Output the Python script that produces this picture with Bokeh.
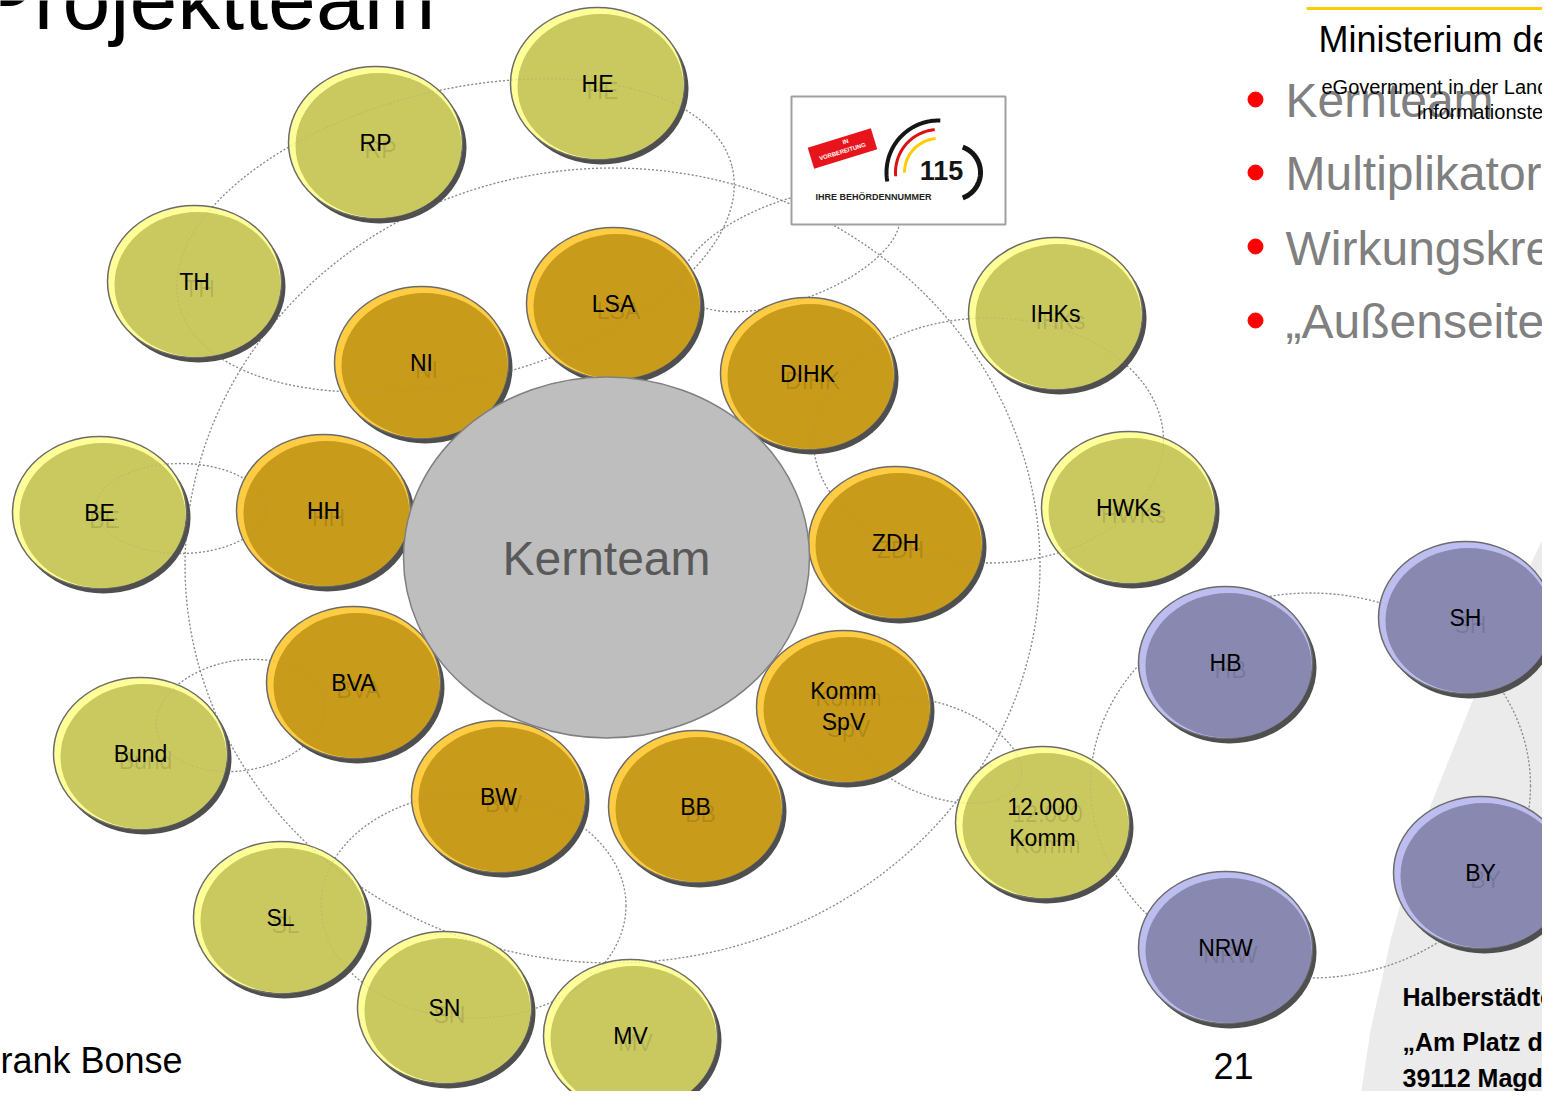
import numpy as np
from bokeh.plotting import figure
from bokeh.models import Range1d, ColumnDataSource
from bokeh.embed import file_html
from bokeh.resources import INLINE
from bokeh.core.properties import value

# ---------------- data ----------------
core_names = ["LSA", "NI", "DIHK", "HH", "ZDH", "BVA", "Komm\nSpV", "BW", "BB"]
core_x = [613, 421, 807, 323, 895, 353, 843, 498, 695]
core_y = [303, 362, 373, 510, 542, 682, 706, 796, 806]

outer_names = ["HE", "RP", "TH", "IHKs", "BE", "HWKs", "Bund", "12.000\nKomm", "SL", "SN", "MV"]
outer_x = [597, 375, 194, 1055, 99, 1128, 140, 1042, 280, 444, 630]
outer_y = [83, 142, 281, 313, 512, 507, 753, 822, 917, 1007, 1035]

ext_names = ["HB", "SH", "NRW", "BY"]
ext_x = [1225, 1465, 1225, 1480]
ext_y = [662, 617, 947, 872]

center_name = "Kernteam"
center_xy = (606, 557)

# dotted connection rings: cx, cy, width, height, tilt (deg)
ring_cx = [612, 455, 790, 988, 180, 240, 473, 937, 1310]
ring_cy = [565, 235, 250, 440, 508, 715, 905, 750, 785]
ring_w = [855, 570, 230, 350, 170, 170, 305, 176, 440]
ring_h = [795, 290, 100, 245, 90, 110, 225, 92, 385]
ring_tilt = [0, -14, -20, 0, 0, -10, 0, 20, 0]

bullets = ["Kernteam", "Multiplikatore", "Wirkungskrei", "\u201eAu\u00dfenseiter"]
bullet_y = [100, 173, 248, 321]

address = ["Halberst\u00e4dte", "\u201eAm Platz de", "39112 Magde"]
address_y = [996, 1041, 1077]

swoosh_x = [1558, 1507, 1467, 1420, 1390, 1370, 1358, 1560, 1560]
swoosh_y = [505, 613, 713, 830, 940, 1030, 1110, 1110, 505]

NODE_W, NODE_H = 174, 152
FONT = value("Liberation Sans")

# ---------------- figure ----------------
p = figure(width=1542, height=1091, output_backend="svg", toolbar_location=None,
           x_range=Range1d(0, 1542), y_range=Range1d(1091, 0),
           x_axis_location=None, y_axis_location=None, min_border=0)
p.grid.visible = False
p.outline_line_color = None
p.background_fill_color = "white"
p.border_fill_color = "white"

# background swoosh
p.patch(swoosh_x, swoosh_y, fill_color="#EBEBEB", line_color=None)


def ring_points(cx, cy, w, h, tilt):
    t = np.linspace(0, 2 * np.pi, 240)
    a, b = w / 2, h / 2
    th = np.radians(tilt)
    u, v = a * np.cos(t), b * np.sin(t)
    return list(cx + u * np.cos(th) - v * np.sin(th)), list(cy + u * np.sin(th) + v * np.cos(th))


rxs, rys = [], []
for i in range(len(ring_cx)):
    xx, yy = ring_points(ring_cx[i], ring_cy[i], ring_w[i], ring_h[i], ring_tilt[i])
    rxs.append(xx)
    rys.append(yy)
p.multi_line(rxs, rys, line_color="#8a8a8a", line_width=1.3, line_dash="2 2")


def label(x, y, txt, size, color="black", style="normal", align="left", **kw):
    p.text(x=x, y=y, text=txt, text_font=FONT, text_font_size=value(size), text_color=color,
           text_font_style=style, text_align=align, text_baseline="middle", **kw)


# title and footer texts
label([-24], [-2], ["Projektteam"], "86px")
label([0], [1060], ["rank Bonse"], "36px")
label([1213], [1065], ["21"], "36px")

# header
p.segment(x0=[1306], y0=[8], x1=[1560], y1=[8], line_color="#FFCC00", line_width=3)
p.scatter(x=[1255] * 4, y=[99, 172, 246, 320], size=15, color="#FF0000")
label([1285] * 4, bullet_y, bullets, "48px", color="#808080")
label([1318], [39], ["Ministerium de"], "36px")
label([1321, 1416], [86, 111], ["eGovernment in der Land", "Informationstec"], "20px")

# address
label([1402] * 3, address_y, address, "25px", style="bold")


def draw_nodes(xs, ys, body, hi):
    src = ColumnDataSource(dict(x=xs, y=ys,
                                sx=[x + 4 for x in xs], sy=[y + 5 for y in ys],
                                bx=[x + 3 for x in xs], by=[y + 3 for y in ys]))
    p.ellipse("sx", "sy", width=NODE_W, height=NODE_H, fill_color="#4f4f4f", line_color=None, source=src)
    p.ellipse("x", "y", width=NODE_W, height=NODE_H, fill_color=hi, line_color="#6b6b6b",
              line_width=1.5, source=src)
    p.ellipse("bx", "by", width=NODE_W - 8, height=NODE_H - 7, fill_color=body, line_color=None, source=src)


draw_nodes(outer_x, outer_y, "#CAC95F", "#FFFF99")
draw_nodes(ext_x, ext_y, "#8888B0", "#BDBDF0")
draw_nodes(core_x, core_y, "#C89B1A", "#FFCC44")

# central circle
p.ellipse([center_xy[0]], [center_xy[1]], width=406, height=361, fill_color="#BEBEBE",
          line_color="#808080", line_width=1.5)
label([center_xy[0]], [center_xy[1] + 1], [center_name], "48px", color="#595959", align="center")

# faint ring traces over the nodes
p.multi_line(rxs, rys, line_color="#8a8a8a", line_width=1.0, line_dash="2 2", line_alpha=0.25)

# labels
all_names = core_names + outer_names + ext_names
all_x = core_x + outer_x + ext_x
all_y = core_y + outer_y + ext_y
label([x + 5 for x in all_x], [y + 7 for y in all_y], all_names, "23px", align="center",
      text_alpha=0.13, text_line_height=1.2)
label(all_x, all_y, all_names, "23px", align="center", text_line_height=1.2)

# 115 logo
p.quad(left=[791], right=[1005], top=[96], bottom=[224], fill_color="white",
       line_color="#A0A0A0", line_width=2)


def arc(cx, cy, r, a0, a1):
    t = np.radians(np.linspace(a0, a1, 50))
    return list(cx + r * np.cos(t)), list(cy - r * np.sin(t))


ax, ay = [], []
for (r, a0, a1) in [(52, 88, 190), (43, 95, 185), (34, 95, 180), (27, -70, 70)]:
    xx, yy = arc(938 if r != 27 else 953, 172, r, a0, a1)
    ax.append(xx)
    ay.append(yy)
p.multi_line(ax, ay, line_color=["#151515", "#DD1111", "#FFCC00", "#151515"], line_width=[4, 3, 3, 5])

ang = np.radians(17)
bw, bh, bcx, bcy = 66, 22, 842, 148
corners = [(-bw / 2, -bh / 2), (bw / 2, -bh / 2), (bw / 2, bh / 2), (-bw / 2, bh / 2)]
p.patch([bcx + u * np.cos(ang) + v * np.sin(ang) for u, v in corners],
        [bcy - u * np.sin(ang) + v * np.cos(ang) for u, v in corners],
        fill_color="#E8141B", line_color=None)
label([845, 842], [141, 151], ["IN", "VORBEREITUNG"], "6px", color="white", style="bold",
      align="center", angle=0.3)
label([941], [170], ["115"], "27px", color="#151515", style="bold", align="center")
label([815], [196], ["IHRE BEH\u00d6RDENNUMMER"], "9px", color="#222222", style="bold")

open("out.html", "w").write(file_html(p, INLINE))
